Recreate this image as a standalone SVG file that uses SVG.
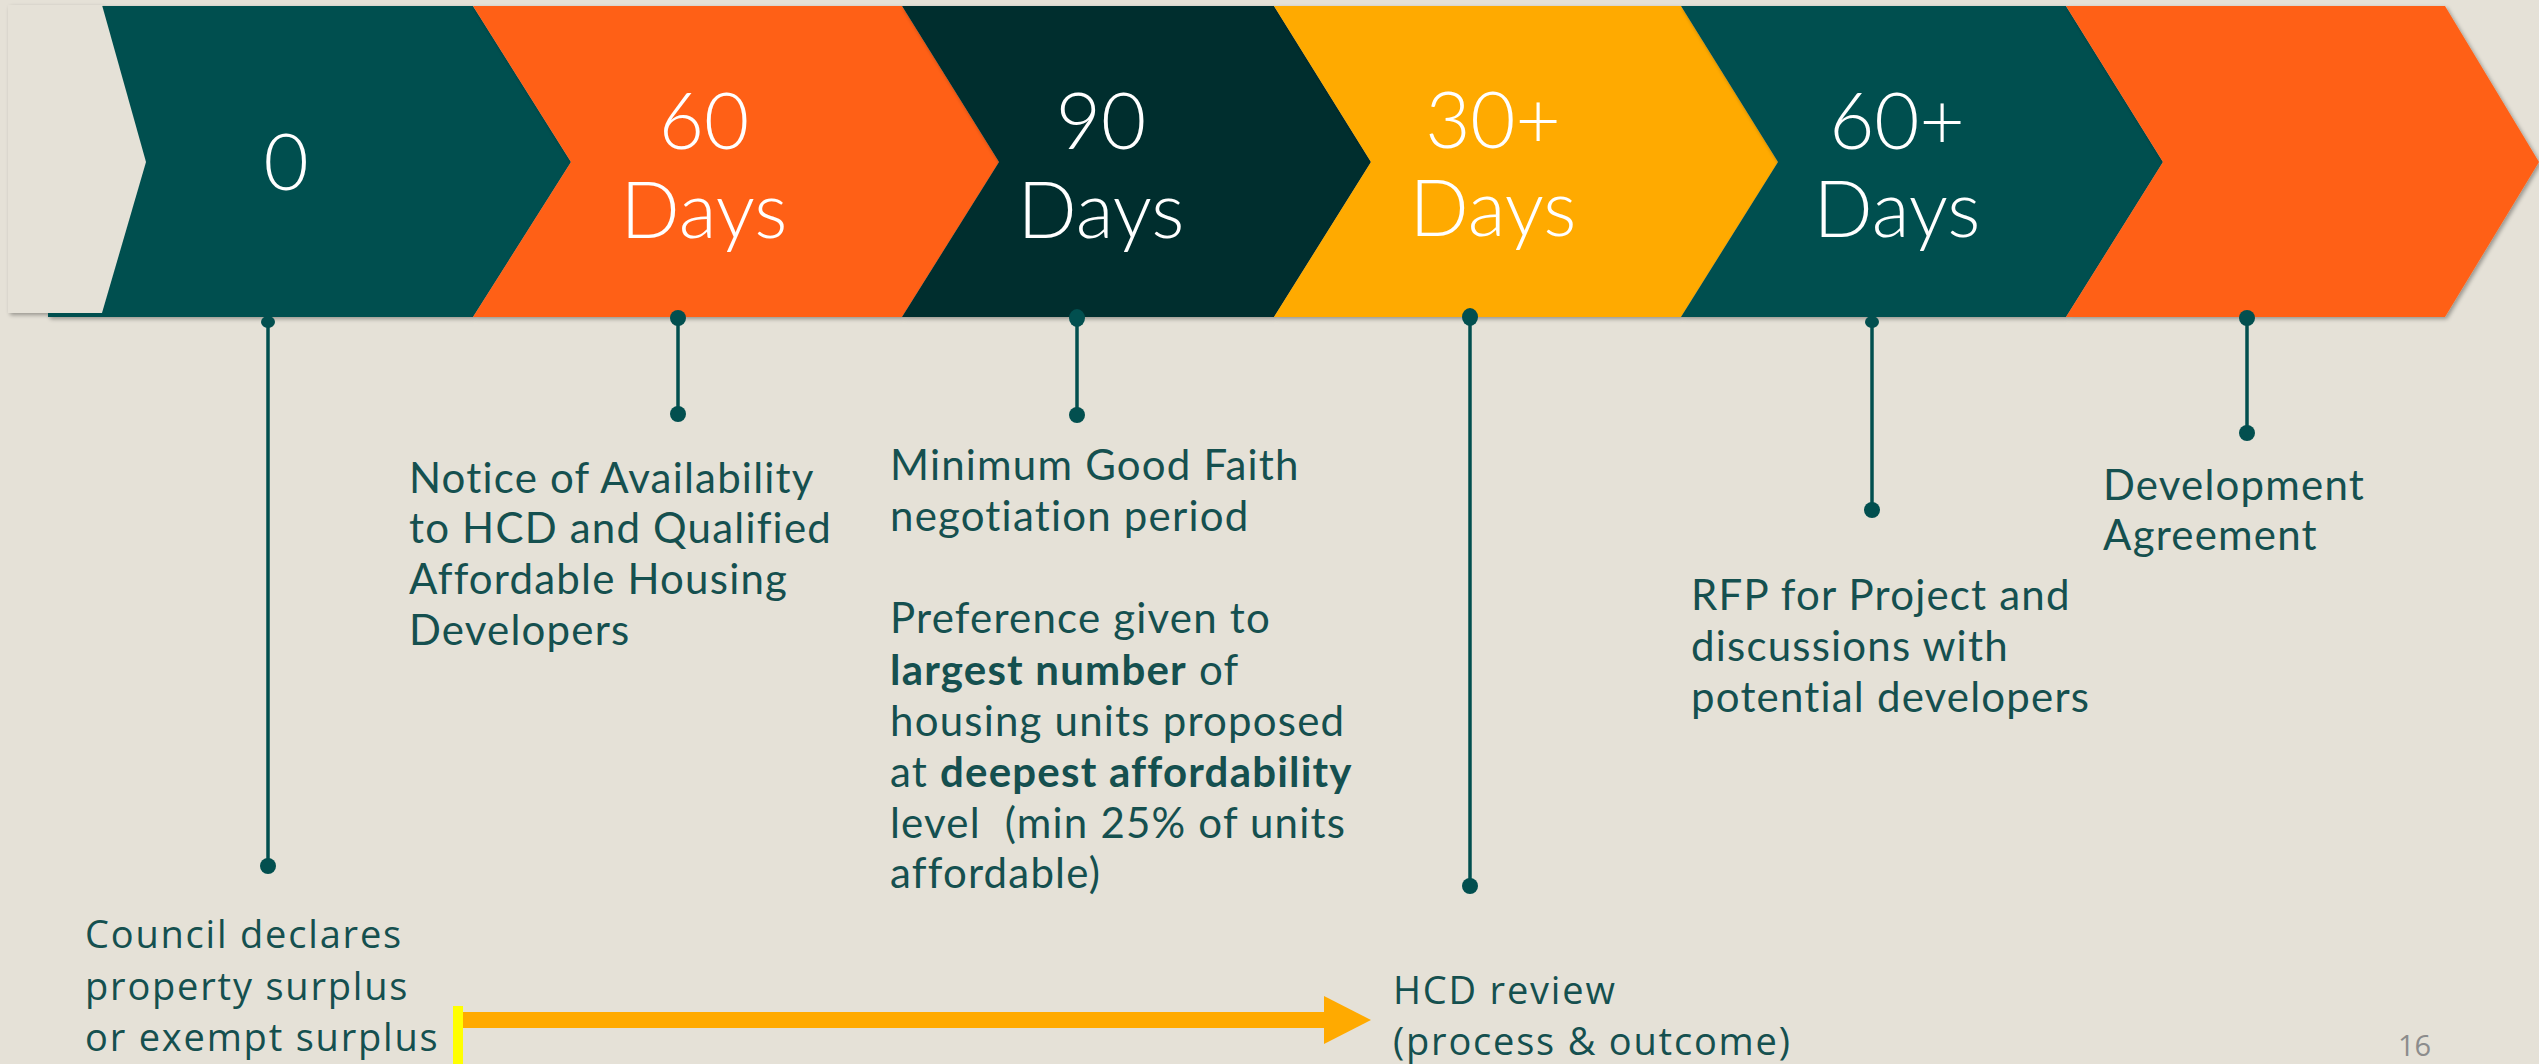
<svg xmlns="http://www.w3.org/2000/svg" width="2539" height="1064" viewBox="0 0 2539 1064">
<defs>
<filter id="sh" x="-5%" y="-5%" width="110%" height="115%">
<feGaussianBlur in="SourceAlpha" stdDeviation="2"/>
<feOffset dx="2" dy="2" result="b"/>
<feComponentTransfer><feFuncA type="linear" slope="0.35"/></feComponentTransfer>
<feMerge><feMergeNode/><feMergeNode in="SourceGraphic"/></feMerge>
</filter>
</defs>
<style>
.bg{fill:#E5E1D7}
.teal{fill:#024F4F}
.orange{fill:#FF6119}
.dark{fill:#022E2E}
.yellow{fill:#FFAA00}
.num{font-family:Lato,"Open Sans","Liberation Sans",sans-serif;font-weight:300;font-size:78px;fill:#FFFFFF;text-anchor:middle}
.body{font-family:Lato,"Open Sans","Liberation Sans",sans-serif;font-size:42px;fill:#15504F;letter-spacing:1.2px}
.cond{font-family:"Open Sans","Noto Sans","Liberation Sans",sans-serif;font-size:38px;fill:#15504F;letter-spacing:1.8px}
.b{font-weight:bold}
.conn line{stroke:#024F4F;stroke-width:3.5}
.conn circle,.conn ellipse{fill:#024F4F}
</style>
<rect class="bg" x="0" y="0" width="2539" height="1064"/>

<g id="stage-0" filter="url(#sh)">
<polygon class="teal" points="48,6 473,6 571,162 473,317 48,317"/>
<polygon class="bg" points="8,5 102,5 146,162 102,313 8,313"/>
<text class="num" x="286" y="190">0</text>
</g>
<g id="stage-60" filter="url(#sh)">
<polygon class="orange" points="473,6 902,6 999,162 902,317 473,317 571,162"/>
<text class="num" x="704" y="149">60</text>
<text class="num" x="704" y="238">Days</text>
</g>
<g id="stage-90" filter="url(#sh)">
<polygon class="dark" points="902,6 1274,6 1371,162 1274,317 902,317 999,162"/>
<text class="num" x="1101" y="149">90</text>
<text class="num" x="1101" y="238">Days</text>
</g>
<g id="stage-30" filter="url(#sh)">
<polygon class="yellow" points="1274,6 1681,6 1778,162 1681,317 1274,317 1371,162"/>
<text class="num" x="1493" y="148">30+</text>
<text class="num" x="1493" y="236">Days</text>
</g>
<g id="stage-60plus" filter="url(#sh)">
<polygon class="teal" points="1681,6 2066,6 2163,162 2066,317 1681,317 1778,162"/>
<text class="num" x="1897" y="149">60+</text>
<text class="num" x="1897" y="237">Days</text>
</g>
<g id="stage-final" filter="url(#sh)">
<polygon class="orange" points="2066,6 2445,6 2539,162 2445,317 2066,317 2163,162"/>
</g>

<g id="connectors" class="conn">
<line x1="268" y1="320" x2="268" y2="866"/><ellipse cx="268" cy="322" rx="7" ry="6"/><circle cx="268" cy="866" r="8"/>
<line x1="678" y1="318" x2="678" y2="414"/><circle cx="678" cy="318" r="8"/><circle cx="678" cy="414" r="8"/>
<line x1="1077" y1="318" x2="1077" y2="415"/><ellipse cx="1077" cy="318" rx="8" ry="9"/><circle cx="1077" cy="415" r="8"/>
<line x1="1470" y1="317" x2="1470" y2="886"/><ellipse cx="1470" cy="317" rx="8" ry="9"/><circle cx="1470" cy="886" r="8"/>
<line x1="1872" y1="320" x2="1872" y2="510"/><ellipse cx="1872" cy="322" rx="7" ry="6"/><circle cx="1872" cy="510" r="8"/>
<line x1="2247" y1="318" x2="2247" y2="433"/><circle cx="2247" cy="318" r="8"/><circle cx="2247" cy="433" r="8"/>
<rect x="458" y="1012" width="868" height="16" fill="#FFAA00"/>
<polygon points="1324,996 1371,1020 1324,1044" fill="#FFAA00"/>
<rect x="453" y="1006" width="10" height="58" fill="#FFFF00"/>
</g>

<g id="note-notice">
<text class="body" x="409" y="493">Notice of Availability</text>
<text class="body" x="409" y="543">to HCD and Qualified</text>
<text class="body" x="409" y="594">Affordable Housing</text>
<text class="body" x="409" y="645">Developers</text>
</g>
<g id="note-minimum">
<text class="body" x="890" y="480">Minimum Good Faith</text>
<text class="body" x="890" y="531">negotiation period</text>
</g>
<g id="note-preference">
<text class="body" x="890" y="633">Preference given to</text>
<text class="body" x="890" y="685"><tspan class="b">largest number</tspan> of</text>
<text class="body" x="890" y="736">housing units proposed</text>
<text class="body" x="890" y="787">at <tspan class="b">deepest affordability</tspan></text>
<text class="body" x="890" y="838" xml:space="preserve">level  (min 25% of units</text>
<text class="body" x="890" y="888">affordable)</text>
</g>
<g id="note-rfp">
<text class="body" x="1691" y="610">RFP for Project and</text>
<text class="body" x="1691" y="661">discussions with</text>
<text class="body" x="1691" y="712">potential developers</text>
</g>
<g id="note-agreement">
<text class="body" x="2103" y="500">Development</text>
<text class="body" x="2103" y="550">Agreement</text>
</g>
<g id="note-council">
<text class="cond" x="85" y="948">Council declares</text>
<text class="cond" x="85" y="1000">property surplus</text>
<text class="cond" x="85" y="1051">or exempt surplus</text>
</g>
<g id="note-hcd">
<text class="cond" x="1393" y="1004">HCD review</text>
<text class="cond" x="1393" y="1055">(process &amp; outcome)</text>
</g>
<text x="2398" y="1056" font-family="'Open Sans','Liberation Sans',sans-serif" font-size="29" fill="#8C8C8C">16</text>
</svg>
